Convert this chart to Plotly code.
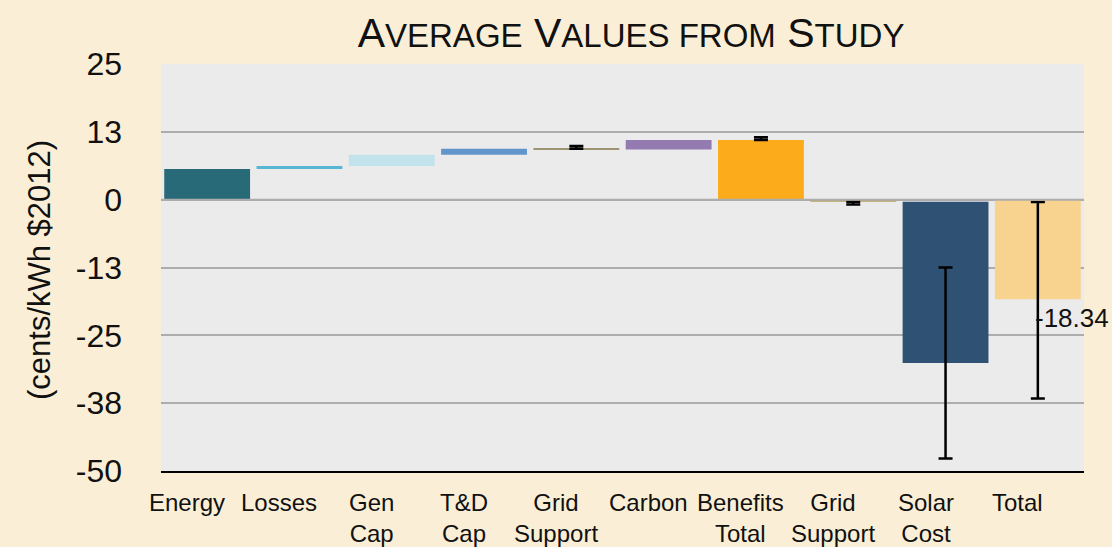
import plotly.graph_objects as go

# Waterfall of average solar value components (cents/kWh, $2012)
categories = ["Energy", "Losses", "Gen<br>Cap", "T&D<br>Cap", "Grid<br>Support", "Carbon",
              "Benefits<br>Total", "Grid<br>Support", "Solar<br>Cost", "Total"]
values = [5.65, 0.55, 2.1, 1.1, 0.1, 1.75, 11.0, -0.4, -29.7, -18.34]
bases = [0, 5.65, 6.2, 8.3, 9.3, 9.25, 0, 0, -0.4, 0]
err_plus = [None, None, None, None, 0.5, None, 0.5, 0, 17.6, 17.9]
err_minus = [None, None, None, None, 0, None, 0, 0.5, 17.6, 18.3]
bar_colors = ["#296a78", "#56b6d4", "#c2e3ec", "#6096cc", "#9c9470", "#937ab1",
              "#fcac1b", "#b9a060", "#2f5173", "#f8d38f"]

y_ticks = [-50, -37.5, -25, -12.5, 0, 12.5, 25]
y_ticktext = ["-50", "-38", "-25", "-13", "0", "13", "25"]

FONT = "Liberation Sans, Arial, Helvetica, sans-serif"
xs = list(range(len(categories)))


def subset(seq, idx):
    return [seq[i] for i in idx]


plain = [i for i in xs if err_plus[i] is None]
with_err = [i for i in xs if err_plus[i] is not None]

fig = go.Figure()
# components without an error range
fig.add_trace(go.Bar(
    x=subset(xs, plain), y=subset(values, plain), base=subset(bases, plain),
    marker=dict(color=subset(bar_colors, plain), line=dict(width=0)),
    hoverinfo="skip",
))
# components with an error range
fig.add_trace(go.Bar(
    x=subset(xs, with_err), y=subset(values, with_err), base=subset(bases, with_err),
    marker=dict(color=subset(bar_colors, with_err), line=dict(width=0)),
    error_y=dict(type="data", symmetric=False, array=subset(err_plus, with_err),
                 arrayminus=subset(err_minus, with_err),
                 color="#000000", thickness=2.5, width=7),
    hoverinfo="skip",
))

annotations = []
# category labels under the axis
for i, lab in enumerate(categories):
    annotations.append(dict(
        x=i, y=0, xref="x", yref="paper", xanchor="center", yanchor="top",
        xshift=-20, yshift=-16, text=lab, showarrow=False,
        font=dict(family=FONT, size=24, color="#111111"),
    ))
# value label for the total
annotations.append(dict(
    x=xs[-1], y=values[-1], xref="x", yref="y", xanchor="left", yanchor="middle",
    xshift=-5, yshift=-19, text=f"{values[-1]:.2f}", showarrow=False,
    font=dict(family=FONT, size=26, color="#111111"),
))
# y axis title
annotations.append(dict(
    x=-0.131, y=0.494, xref="paper", yref="paper", xanchor="center", yanchor="middle",
    text="(cents/kWh $2012)", textangle=-90, showarrow=False,
    font=dict(family=FONT, size=31, color="#111111"),
))

small = "<span style='font-size:33px'>"
title_text = f"A{small}VERAGE</span> V{small}ALUES FROM</span> S{small}TUDY</span>"

fig.update_layout(
    width=1112, height=547,
    margin=dict(l=161, r=28, t=64, b=76),
    paper_bgcolor="#faefd6",
    plot_bgcolor="#ebebeb",
    showlegend=False,
    barmode="overlay",
    bargap=0.07,
    font=dict(family=FONT, color="#111111"),
    title=dict(text=title_text, x=0.5675, xanchor="center", xref="container",
               y=0.967, yanchor="top", font=dict(family=FONT, size=41, color="#111111")),
    xaxis=dict(range=[-0.5, len(categories) - 0.5], showticklabels=False, showgrid=False,
               zeroline=False, showline=True, linecolor="#000000", linewidth=2, ticks=""),
    yaxis=dict(range=[-50, 25], tickvals=y_ticks, ticktext=y_ticktext, showgrid=True,
               gridcolor="#adadad", gridwidth=2, zeroline=False, showline=False, ticks="",
               ticklabelstandoff=38, tickfont=dict(family=FONT, size=32, color="#111111")),
    annotations=annotations,
    shapes=[dict(type="line", xref="paper", yref="y", x0=0, x1=1, y0=0, y1=0,
                 line=dict(color="#adadad", width=2), layer="above")],
)

fig.write_html("out.html")
